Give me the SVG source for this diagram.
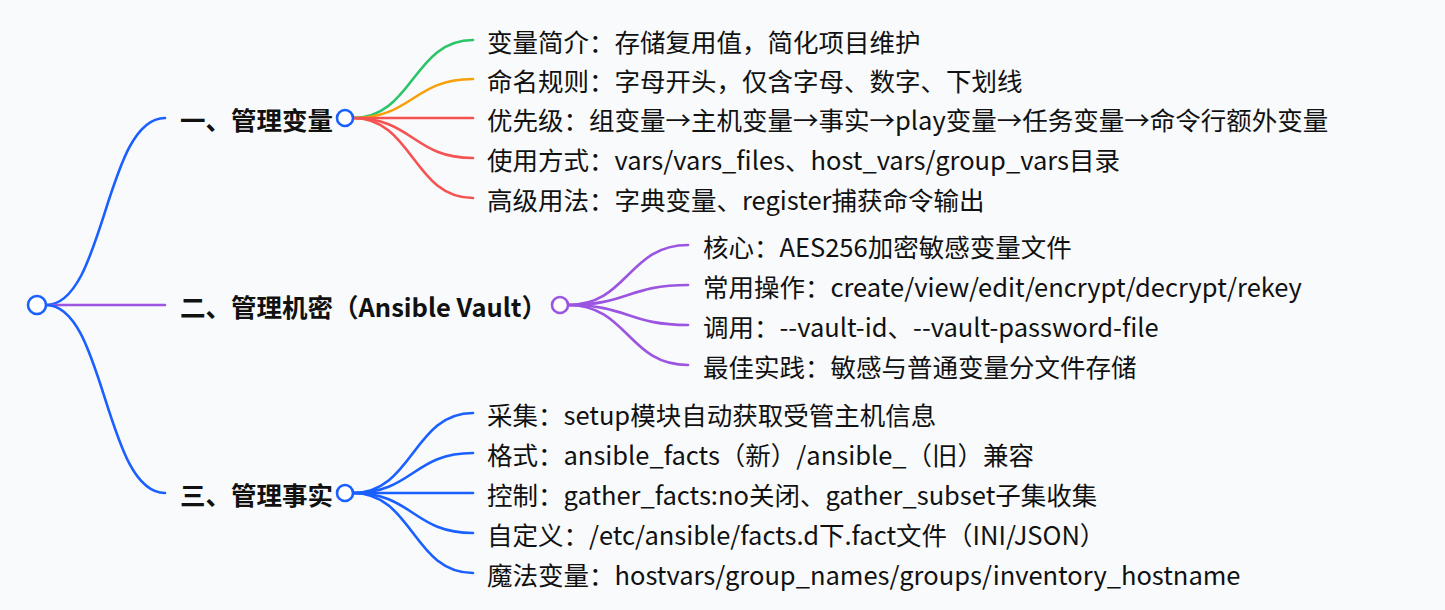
<svg xmlns="http://www.w3.org/2000/svg" width="1445" height="610" viewBox="0 0 1445 610">
<style>
text{font-family:"Noto Sans CJK SC","Noto Sans",sans-serif;font-size:25.5px;fill:#111;dominant-baseline:central}
.b{font-weight:bold}
.l{fill:none;stroke-width:2.6;stroke-linecap:round}
.blue{stroke:#1a5fff}
.purple{stroke:#9b55e0}
.green{stroke:#2cc468}
.orange{stroke:#f7a00a}
.red{stroke:#f55252}
.n{fill:#fff;stroke-width:2.6}
</style>
<rect width="1445" height="610" fill="#f8fafc"/>
<g id="connectors">
<path class="l blue" d="M46,305 C105,305 105,118 165,118"/>
<path class="l purple" d="M46,305 L165,305"/>
<path class="l blue" d="M46,305 C105,305 105,493 165,493"/>
<path class="l green" d="M353,118 C413,118 413,40 473,40"/>
<path class="l orange" d="M353,118 C413,118 413,79 473,79"/>
<path class="l red" d="M353,118 L473,118"/>
<path class="l red" d="M353,118 C413,118 413,158 473,158"/>
<path class="l red" d="M353,118 C413,118 413,198 473,198"/>
<path class="l purple" d="M568,305 C628,305 628,245 688,245"/>
<path class="l purple" d="M568,305 C628,305 628,285 688,285"/>
<path class="l purple" d="M568,305 C628,305 628,325 688,325"/>
<path class="l purple" d="M568,305 C628,305 628,365 688,365"/>
<path class="l blue" d="M353,493 C413,493 413,413 473,413"/>
<path class="l blue" d="M353,493 C413,493 413,453 473,453"/>
<path class="l blue" d="M353,493 L473,493"/>
<path class="l blue" d="M353,493 C413,493 413,533 473,533"/>
<path class="l blue" d="M353,493 C413,493 413,573 473,573"/>
</g>
<g id="root"><circle class="n blue" cx="37" cy="305" r="9"/></g>
<g id="n1"><text class="b" x="180" y="118">一、管理变量</text><circle class="n blue" cx="345" cy="118" r="8"/></g>
<g id="n2"><text class="b" x="180" y="305">二、管理机密（Ansible Vault）</text><circle class="n purple" cx="560" cy="305" r="8"/></g>
<g id="n3"><text class="b" x="180" y="493">三、管理事实</text><circle class="n blue" cx="345" cy="493" r="8"/></g>
<g id="n1a"><text x="487" y="40">变量简介：存储复用值，简化项目维护</text></g>
<g id="n1b"><text x="487" y="79">命名规则：字母开头，仅含字母、数字、下划线</text></g>
<g id="n1c"><text x="487" y="118">优先级：组变量→主机变量→事实→play变量→任务变量→命令行额外变量</text></g>
<g id="n1d"><text x="487" y="158">使用方式：vars/vars_files、host_vars/group_vars目录</text></g>
<g id="n1e"><text x="487" y="198">高级用法：字典变量、register捕获命令输出</text></g>
<g id="n2a"><text x="703" y="245">核心：AES256加密敏感变量文件</text></g>
<g id="n2b"><text x="703" y="285">常用操作：create/view/edit/encrypt/decrypt/rekey</text></g>
<g id="n2c"><text x="703" y="325">调用：--vault-id、--vault-password-file</text></g>
<g id="n2d"><text x="703" y="365">最佳实践：敏感与普通变量分文件存储</text></g>
<g id="n3a"><text x="487" y="413">采集：setup模块自动获取受管主机信息</text></g>
<g id="n3b"><text x="487" y="453">格式：ansible_facts（新）/ansible_（旧）兼容</text></g>
<g id="n3c"><text x="487" y="493">控制：gather_facts:no关闭、gather_subset子集收集</text></g>
<g id="n3d"><text x="487" y="533">自定义：/etc/ansible/facts.d下.fact文件（INI/JSON）</text></g>
<g id="n3e"><text x="487" y="573">魔法变量：hostvars/group_names/groups/inventory_hostname</text></g>
</svg>
